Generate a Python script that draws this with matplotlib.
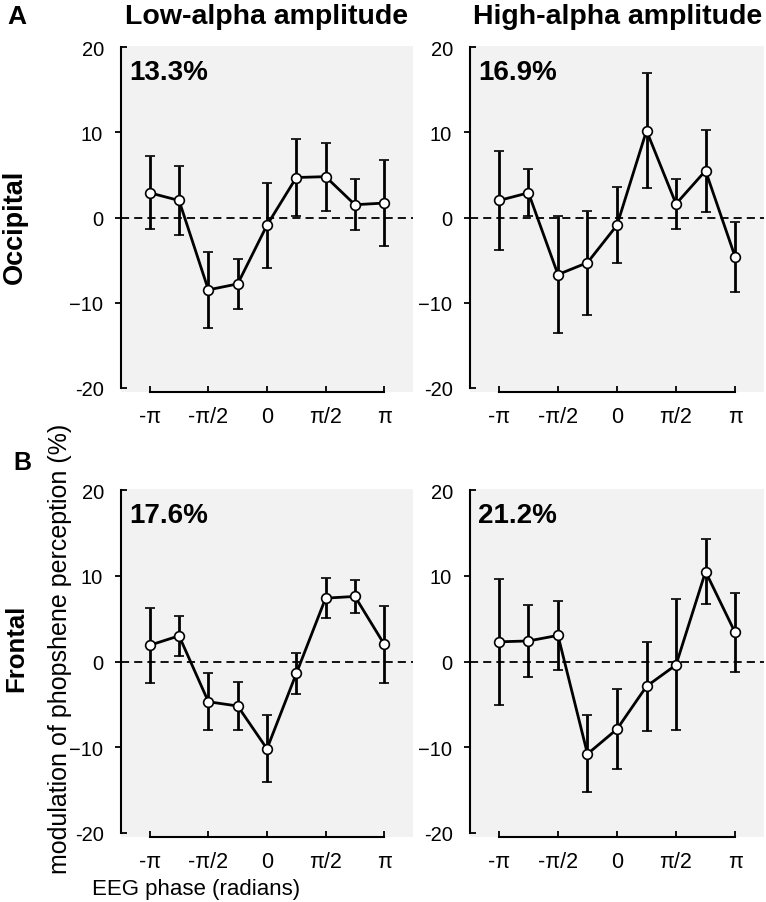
import numpy as np
import matplotlib
matplotlib.use("Agg")
import matplotlib.pyplot as plt
from matplotlib.ticker import FixedLocator, FixedFormatter

plt.rcParams['font.family'] = ['Liberation Sans', 'DejaVu Sans']

# phase bins (radians)
phase = [-np.pi, -3*np.pi/4, -np.pi/2, -np.pi/4, 0, np.pi/4, np.pi/2, 3*np.pi/4, np.pi]
xtick_pos = [-np.pi, -np.pi/2, 0, np.pi/2, np.pi]
xtick_lbl = ['-π', '-π/2', '0', 'π/2', 'π']

occ_low = [2.9, 2.0, -8.5, -7.8, -0.9, 4.7, 4.8, 1.5, 1.7]
occ_low_err = [4.3, 4.1, 4.5, 2.9, 5.0, 4.5, 4.0, 3.0, 5.1]
occ_high = [2.0, 2.9, -6.7, -5.3, -0.9, 10.2, 1.6, 5.5, -4.6]
occ_high_err = [5.85, 2.75, 6.9, 6.1, 4.5, 6.75, 2.9, 4.8, 4.1]
fr_low = [1.9, 3.0, -4.7, -5.2, -10.2, -1.4, 7.4, 7.6, 2.0]
fr_low_err = [4.4, 2.35, 3.3, 2.85, 3.9, 2.35, 2.3, 1.95, 4.5]
fr_high = [2.3, 2.4, 3.05, -10.8, -7.9, -2.9, -0.4, 10.5, 3.4]
fr_high_err = [7.35, 4.2, 4.0, 4.5, 4.65, 5.2, 7.65, 3.8, 4.6]
pct = ['13.3%', '16.9%', '17.6%', '21.2%']

W, H = 766, 903
fig = plt.figure(figsize=(W/100, H/100), dpi=100)

def pos(l, t, w, h):
    return [l/W, 1-(t+h)/H, w/W, h/H]

boxes = [pos(121, 47, 292, 346), pos(470, 47, 294, 346),
         pos(121, 490, 292, 348), pos(470, 490, 294, 348)]
series = [(occ_low, occ_low_err), (occ_high, occ_high_err),
          (fr_low, fr_low_err), (fr_high, fr_high_err)]

for box, (m, e), txt in zip(boxes, series, pct):
    ax = fig.add_axes(box)
    ax.set_facecolor('#f2f2f2')
    ax.axhline(0, color='k', ls=(0, (4.5, 2.8)), lw=1.3, zorder=1)
    ax.errorbar(phase, m, yerr=e, color='k', lw=2, elinewidth=2,
                capsize=3.5, capthick=2, marker='o', ms=7,
                mfc='white', mec='k', mew=1.2, zorder=3)
    ax.set_xlim(-np.pi - 0.77, np.pi + 0.77)
    ax.set_ylim(-20.5, 20.15)
    for s in ['top', 'right']:
        ax.spines[s].set_visible(False)
    ax.spines['left'].set_bounds(-20, 20)
    ax.spines['bottom'].set_bounds(-np.pi, np.pi)
    ax.spines['left'].set_linewidth(1.5)
    ax.spines['bottom'].set_linewidth(1.5)
    ax.set_xticks(xtick_pos)
    ax.set_xticklabels(xtick_lbl)
    ax.set_yticks([-10, 0, 10])
    ax.yaxis.set_minor_locator(FixedLocator([-20, 20]))
    ax.yaxis.set_minor_formatter(FixedFormatter(['-20', '20']))
    ax.tick_params(axis='x', direction='in', length=4, width=1.3,
                   labelsize=15.5, pad=10)
    ax.tick_params(axis='y', which='major', direction='out', length=4,
                   width=1.3, labelsize=14.5, pad=9)
    ax.tick_params(axis='y', which='minor', direction='in', length=4,
                   width=1.3, labelsize=14.5, pad=12)
    ax.text(8/box[2]/W, 1 - 33/(box[3]*H), txt, transform=ax.transAxes,
            fontsize=20, fontweight='bold', va='baseline', ha='left')

fig.text(267/W, 1-24/H, 'Low-alpha amplitude', fontsize=20.5,
         fontweight='bold', ha='center', va='baseline')
fig.text(618/W, 1-24/H, 'High-alpha amplitude', fontsize=20.5,
         fontweight='bold', ha='center', va='baseline')
fig.text(7/W, 1-24/H, 'A', fontsize=19, fontweight='bold', va='baseline')
fig.text(13/W, 1-470/H, 'B', fontsize=18, fontweight='bold', va='baseline')
fig.text(15/W, 1-227/H, 'Occipital', fontsize=19.5, fontweight='bold',
         rotation=90, ha='center', va='center')
fig.text(16/W, 1-648/H, 'Frontal', fontsize=18.5, fontweight='bold',
         rotation=90, ha='center', va='center')
fig.text(60/W, 1-649/H, 'modulation of phopshene perception (%)',
         fontsize=18, rotation=90, ha='center', va='center')
fig.text(196/W, 1-890/H, 'EEG phase (radians)', fontsize=16,
         ha='center', va='center')

fig.savefig('out.png', dpi=100)
